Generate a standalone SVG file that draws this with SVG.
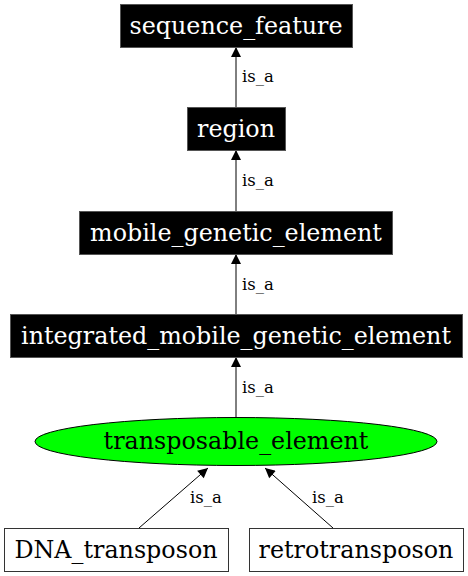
<svg xmlns="http://www.w3.org/2000/svg" width="468" height="576" viewBox="0 0 468 576">
<style>
.bk{fill:#000;stroke:#555;stroke-width:1}
.wt{fill:#fff;stroke:#333;stroke-width:1}
.nt{font-family:"DejaVu Serif",serif;font-size:23.8px;text-anchor:middle}
.et{font-family:"DejaVu Serif",serif;font-size:16.5px}
.e{stroke:#000;stroke-width:1;fill:none}
</style>
<defs>
<marker id="ah" viewBox="0 0 10 10" refX="10" refY="5" markerWidth="11" markerHeight="10" markerUnits="userSpaceOnUse" orient="auto">
<path d="M0,0 L10,5 L0,10 Z" fill="#000"/>
</marker>
</defs>
<rect width="468" height="576" fill="#fff"/>
<g id="connectors">
<line class="e" x1="236" y1="108" x2="236" y2="47" marker-end="url(#ah)"/>
<text class="et" x="242" y="82">is_a</text>
<line class="e" x1="236" y1="211" x2="236" y2="150" marker-end="url(#ah)"/>
<text class="et" x="242" y="186">is_a</text>
<line class="e" x1="236" y1="314" x2="236" y2="254" marker-end="url(#ah)"/>
<text class="et" x="242" y="290">is_a</text>
<line class="e" x1="236" y1="418" x2="236" y2="357" marker-end="url(#ah)"/>
<text class="et" x="242" y="393">is_a</text>
<line class="e" x1="139" y1="528" x2="208" y2="468" marker-end="url(#ah)"/>
<text class="et" x="190" y="503">is_a</text>
<line class="e" x1="333" y1="528" x2="265" y2="468" marker-end="url(#ah)"/>
<text class="et" x="312" y="503">is_a</text>
</g>
<g id="sequence_feature">
<rect class="bk" x="120.5" y="4.5" width="232" height="43"/>
<text class="nt" x="236" y="34" fill="#fff">sequence_feature</text>
</g>
<g id="region">
<rect class="bk" x="187.5" y="107.5" width="98" height="43"/>
<text class="nt" x="236" y="137" fill="#fff">region</text>
</g>
<g id="mobile_genetic_element">
<rect class="bk" x="79.5" y="211.5" width="313" height="43"/>
<text class="nt" x="236" y="241" fill="#fff">mobile_genetic_element</text>
</g>
<g id="integrated_mobile_genetic_element">
<rect class="bk" x="10.5" y="314.5" width="452" height="43"/>
<text class="nt" x="236" y="344" fill="#fff">integrated_mobile_genetic_element</text>
</g>
<g id="transposable_element">
<ellipse cx="236" cy="441.5" rx="201" ry="24" fill="#00ff00" stroke="#000"/>
<text class="nt" x="236" y="449" fill="#000">transposable_element</text>
</g>
<g id="DNA_transposon">
<rect class="wt" x="4.5" y="528.5" width="224" height="43"/>
<text class="nt" x="116" y="558" fill="#000">DNA_transposon</text>
</g>
<g id="retrotransposon">
<rect class="wt" x="249.5" y="528.5" width="214" height="43"/>
<text class="nt" x="356" y="558" fill="#000">retrotransposon</text>
</g>
</svg>
